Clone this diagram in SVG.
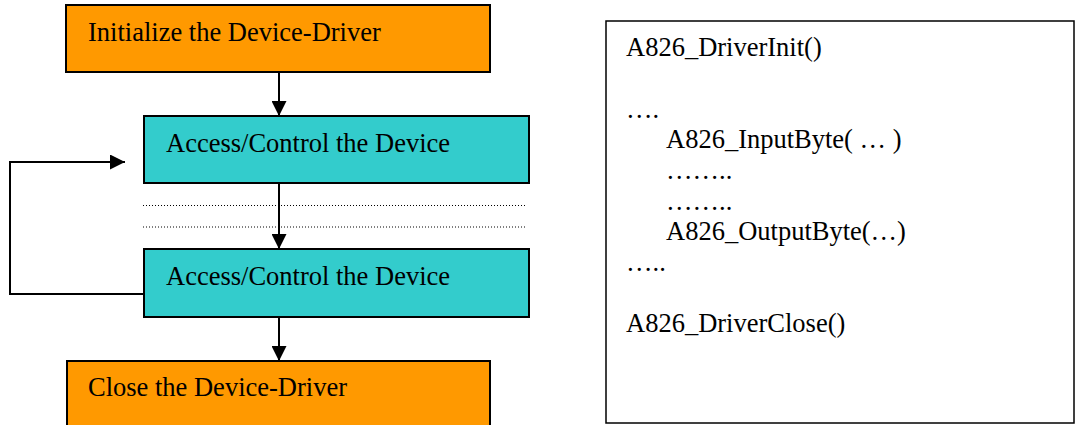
<svg xmlns="http://www.w3.org/2000/svg" width="1076" height="425" viewBox="0 0 1076 425">
<defs>
<style>
.t{font-family:"Liberation Serif","Times New Roman",serif;font-size:26.5px;fill:#000}
.orange{fill:#ff9900;stroke:#000;stroke-width:2}
.cyan{fill:#33cccc;stroke:#000;stroke-width:2}
.conn{fill:none;stroke:#000;stroke-width:2}
.dot{fill:none;stroke:#000;stroke-width:1;stroke-dasharray:1 2}
</style>
<marker id="ah" viewBox="0 0 15 15" refX="15" refY="7.5" markerWidth="15" markerHeight="15" markerUnits="userSpaceOnUse" orient="auto">
<path d="M0,0 L15,7.5 L0,15 Z" fill="#000"/>
</marker>
</defs>
<rect width="1076" height="425" fill="#fff"/>
<g id="init">
<rect class="orange" x="66" y="5" width="424" height="67"/>
<text class="t" x="88" y="41">Initialize the Device-Driver</text>
</g>
<g id="access1">
<rect class="cyan" x="144" y="116" width="385" height="67"/>
<text class="t" x="166" y="152">Access/Control the Device</text>
</g>
<g id="access2">
<rect class="cyan" x="144" y="249" width="385" height="68"/>
<text class="t" x="166" y="285">Access/Control the Device</text>
</g>
<g id="close">
<rect class="orange" x="67" y="361" width="423" height="70"/>
<text class="t" x="88" y="396">Close the Device-Driver</text>
</g>
<g id="separators">
<line class="dot" x1="143" y1="205.5" x2="526" y2="205.5"/>
<line class="dot" x1="143" y1="227" x2="526" y2="227"/>
</g>
<g id="connectors">
<line class="conn" x1="279" y1="72" x2="279" y2="116" marker-end="url(#ah)"/>
<line class="conn" x1="279" y1="183" x2="279" y2="249" marker-end="url(#ah)"/>
<line class="conn" x1="279" y1="317" x2="279" y2="361" marker-end="url(#ah)"/>
<polyline class="conn" points="144,294 10,294 10,162 125,162" marker-end="url(#ah)"/>
</g>
<g id="code">
<rect x="606" y="21" width="468" height="402" fill="#fff" stroke="#000" stroke-width="1.5"/>
<text class="t" x="626" y="56">A826_DriverInit()</text>
<text class="t" x="626" y="118">….</text>
<text class="t" x="666" y="148">A826_InputByte( … )</text>
<text class="t" x="666" y="179">……..</text>
<text class="t" x="666" y="210">……..</text>
<text class="t" x="666" y="240">A826_OutputByte(…)</text>
<text class="t" x="626" y="271">…..</text>
<text class="t" x="626" y="332">A826_DriverClose()</text>
</g>
</svg>
